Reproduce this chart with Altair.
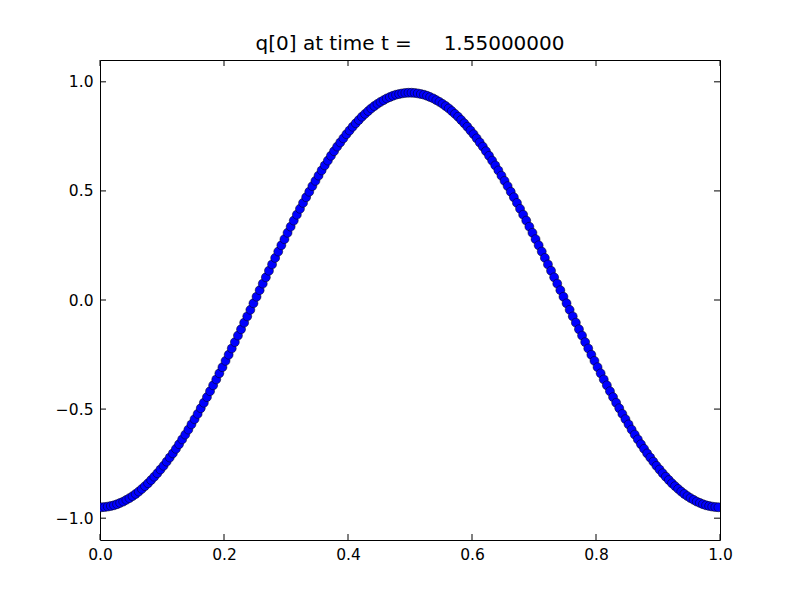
import altair as alt
import pandas as pd

# cell centres along x
x_cells = [
    0.0025, 0.0075, 0.0125, 0.0175, 0.0225, 0.0275, 0.0325, 0.0375, 0.0425, 0.0475,
    0.0525, 0.0575, 0.0625, 0.0675, 0.0725, 0.0775, 0.0825, 0.0875, 0.0925, 0.0975,
    0.1025, 0.1075, 0.1125, 0.1175, 0.1225, 0.1275, 0.1325, 0.1375, 0.1425, 0.1475,
    0.1525, 0.1575, 0.1625, 0.1675, 0.1725, 0.1775, 0.1825, 0.1875, 0.1925, 0.1975,
    0.2025, 0.2075, 0.2125, 0.2175, 0.2225, 0.2275, 0.2325, 0.2375, 0.2425, 0.2475,
    0.2525, 0.2575, 0.2625, 0.2675, 0.2725, 0.2775, 0.2825, 0.2875, 0.2925, 0.2975,
    0.3025, 0.3075, 0.3125, 0.3175, 0.3225, 0.3275, 0.3325, 0.3375, 0.3425, 0.3475,
    0.3525, 0.3575, 0.3625, 0.3675, 0.3725, 0.3775, 0.3825, 0.3875, 0.3925, 0.3975,
    0.4025, 0.4075, 0.4125, 0.4175, 0.4225, 0.4275, 0.4325, 0.4375, 0.4425, 0.4475,
    0.4525, 0.4575, 0.4625, 0.4675, 0.4725, 0.4775, 0.4825, 0.4875, 0.4925, 0.4975,
    0.5025, 0.5075, 0.5125, 0.5175, 0.5225, 0.5275, 0.5325, 0.5375, 0.5425, 0.5475,
    0.5525, 0.5575, 0.5625, 0.5675, 0.5725, 0.5775, 0.5825, 0.5875, 0.5925, 0.5975,
    0.6025, 0.6075, 0.6125, 0.6175, 0.6225, 0.6275, 0.6325, 0.6375, 0.6425, 0.6475,
    0.6525, 0.6575, 0.6625, 0.6675, 0.6725, 0.6775, 0.6825, 0.6875, 0.6925, 0.6975,
    0.7025, 0.7075, 0.7125, 0.7175, 0.7225, 0.7275, 0.7325, 0.7375, 0.7425, 0.7475,
    0.7525, 0.7575, 0.7625, 0.7675, 0.7725, 0.7775, 0.7825, 0.7875, 0.7925, 0.7975,
    0.8025, 0.8075, 0.8125, 0.8175, 0.8225, 0.8275, 0.8325, 0.8375, 0.8425, 0.8475,
    0.8525, 0.8575, 0.8625, 0.8675, 0.8725, 0.8775, 0.8825, 0.8875, 0.8925, 0.8975,
    0.9025, 0.9075, 0.9125, 0.9175, 0.9225, 0.9275, 0.9325, 0.9375, 0.9425, 0.9475,
    0.9525, 0.9575, 0.9625, 0.9675, 0.9725, 0.9775, 0.9825, 0.9875, 0.9925, 0.9975,
]

# q[0] values
q_values = [
    -0.950, -0.949, -0.947, -0.944, -0.941, -0.936, -0.930, -0.924, -0.916, -0.908,
    -0.899, -0.889, -0.878, -0.866, -0.853, -0.840, -0.825, -0.810, -0.794, -0.777,
    -0.760, -0.741, -0.722, -0.703, -0.682, -0.661, -0.639, -0.617, -0.594, -0.570,
    -0.546, -0.522, -0.496, -0.471, -0.445, -0.418, -0.391, -0.364, -0.336, -0.308,
    -0.279, -0.251, -0.222, -0.193, -0.163, -0.134, -0.104, -0.075, -0.045, -0.015,
    0.015, 0.045, 0.075, 0.104, 0.134, 0.163, 0.193, 0.222, 0.251, 0.279,
    0.308, 0.336, 0.364, 0.391, 0.418, 0.445, 0.471, 0.496, 0.522, 0.546,
    0.570, 0.594, 0.617, 0.639, 0.661, 0.682, 0.703, 0.722, 0.741, 0.760,
    0.777, 0.794, 0.810, 0.825, 0.840, 0.853, 0.866, 0.878, 0.889, 0.899,
    0.908, 0.916, 0.924, 0.930, 0.936, 0.941, 0.944, 0.947, 0.949, 0.950,
    0.950, 0.949, 0.947, 0.944, 0.941, 0.936, 0.930, 0.924, 0.916, 0.908,
    0.899, 0.889, 0.878, 0.866, 0.853, 0.840, 0.825, 0.810, 0.794, 0.777,
    0.760, 0.741, 0.722, 0.703, 0.682, 0.661, 0.639, 0.617, 0.594, 0.570,
    0.546, 0.522, 0.496, 0.471, 0.445, 0.418, 0.391, 0.364, 0.336, 0.308,
    0.279, 0.251, 0.222, 0.193, 0.163, 0.134, 0.104, 0.075, 0.045, 0.015,
    -0.015, -0.045, -0.075, -0.104, -0.134, -0.163, -0.193, -0.222, -0.251, -0.279,
    -0.308, -0.336, -0.364, -0.391, -0.418, -0.445, -0.471, -0.496, -0.522, -0.546,
    -0.570, -0.594, -0.617, -0.639, -0.661, -0.682, -0.703, -0.722, -0.741, -0.760,
    -0.777, -0.794, -0.810, -0.825, -0.840, -0.853, -0.866, -0.878, -0.889, -0.899,
    -0.908, -0.916, -0.924, -0.930, -0.936, -0.941, -0.944, -0.947, -0.949, -0.950,
]

x_ticks = [0.0, 0.2, 0.4, 0.6, 0.8, 1.0]
y_ticks = [-1.0, -0.5, 0.0, 0.5, 1.0]
title_text = "q[0] at time t =\u00a0\u00a0\u00a0\u00a0\u00a01.55000000"

W, H = 620, 480
FONT = "DejaVu Sans"
TICK = 6

df = pd.DataFrame({"x": x_cells, "q": q_values})
xt = pd.DataFrame({"x": x_ticks})
yt = pd.DataFrame({"q": y_ticks})

xscale = alt.Scale(domain=[0, 1], nice=False, zero=False)
yscale = alt.Scale(domain=[-1.1, 1.1], nice=False, zero=False)

axis_common = dict(
    format=".1f", ticks=False, domain=False, grid=False,
    labelFont=FONT, labelFontSize=15.5, labelColor="black",
    labelFlush=False, labelOverlap=False, title=None,
)

points = alt.Chart(df).mark_point(
    shape="circle", filled=True, fill="#0000ff", stroke="black",
    strokeWidth=0.5, size=80, opacity=1, fillOpacity=1, clip=True,
).encode(
    x=alt.X("x:Q", scale=xscale,
            axis=alt.Axis(values=x_ticks, labelPadding=7, **axis_common)),
    y=alt.Y("q:Q", scale=yscale,
            axis=alt.Axis(values=y_ticks, labelPadding=7, **axis_common)),
)

xt_bottom = alt.Chart(xt).mark_rule(color="black", strokeWidth=1).encode(
    x=alt.X("x:Q", scale=xscale), y=alt.value(H), y2=alt.value(H - TICK)
)
xt_top = alt.Chart(xt).mark_rule(color="black", strokeWidth=1).encode(
    x=alt.X("x:Q", scale=xscale), y=alt.value(0), y2=alt.value(TICK)
)
yt_left = alt.Chart(yt).mark_rule(color="black", strokeWidth=1).encode(
    y=alt.Y("q:Q", scale=yscale), x=alt.value(0), x2=alt.value(TICK)
)
yt_right = alt.Chart(yt).mark_rule(color="black", strokeWidth=1).encode(
    y=alt.Y("q:Q", scale=yscale), x=alt.value(W), x2=alt.value(W - TICK)
)

chart = alt.layer(points, xt_bottom, xt_top, yt_left, yt_right).properties(
    width=W, height=H,
    title=alt.TitleParams(
        text=title_text, font=FONT, fontSize=20, fontWeight="normal",
        color="black", anchor="middle", offset=6,
    ),
    autosize=alt.AutoSizeParams(type="none"),
    padding={"left": 92, "top": 52, "right": 72, "bottom": 52},
    background="white",
).configure_view(stroke="black", strokeWidth=1)

chart.save("out.html", embed_options={"renderer": "svg", "actions": False})
